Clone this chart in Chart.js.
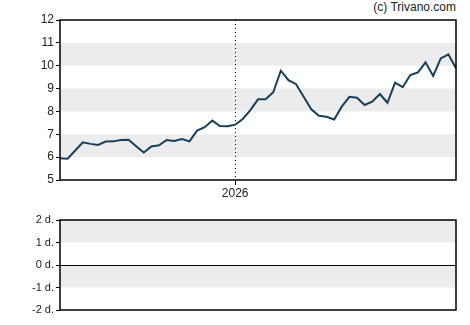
<!DOCTYPE html>
<html>
<head>
<meta charset="utf-8">
<script src="https://cdn.jsdelivr.net/npm/chart.js@4/dist/chart.umd.min.js"></script>
<style>
body{margin:0;background:#fff;}
#wrap{position:relative;width:470px;height:325px;}
#copy{position:absolute;right:14px;top:0px;font:12px "Liberation Sans",Arial,sans-serif;color:#222;}
#priceBox{position:absolute;left:0;top:0;width:470px;height:200px;}
#devBox{position:absolute;left:0;top:205px;width:470px;height:120px;}
</style>
</head>
<body>
<div id="wrap">
    <div id="copy">(c) Trivano.com</div>
    <div id="priceBox"><canvas id="priceChart" width="470" height="200"></canvas></div>
    <div id="devBox"><canvas id="devChart" width="470" height="120"></canvas></div>
</div>
<script>
//数据
var labels=["","","","","","","","","","","","","","","","","","","","","","","","2026","","","","","","","","","","","","","","","","","","","","","","","","","","","","",""];
var prices=[5.95,5.93,6.29,6.65,6.58,6.53,6.68,6.69,6.75,6.76,6.48,6.2,6.47,6.52,6.75,6.71,6.79,6.69,7.16,7.31,7.6,7.36,7.35,7.42,7.67,8.06,8.53,8.53,8.84,9.78,9.37,9.19,8.64,8.09,7.81,7.77,7.65,8.21,8.64,8.6,8.28,8.43,8.76,8.38,9.26,9.06,9.59,9.71,10.15,9.55,10.32,10.5,9.89];
var priceBands=[[6,7],[8,9],[10,11]];
var devTicks=[-2,-1,0,1,2];
var devBands=[[1,2],[-1,0]];
var yearLabel="2026";

var font={family:"'Liberation Sans', Arial, sans-serif",size:12};

//灰色条带 + 边框 + 虚线
function bandPlugin(bands){
    return {
        id:"bands",
        beforeDatasetsDraw:function(chart){
            var ctx=chart.ctx,a=chart.chartArea,y=chart.scales.y;
            ctx.save();
            ctx.fillStyle="#ececec";
            for(var i=0;i<bands.length;i++){
                var y1=y.getPixelForValue(bands[i][1]);
                var y2=y.getPixelForValue(bands[i][0]);
                ctx.fillRect(a.left,y1,a.right-a.left,y2-y1);
            }
            ctx.restore();
        },
        afterDraw:function(chart){
            var ctx=chart.ctx,a=chart.chartArea;
            ctx.save();
            ctx.strokeStyle="#000";
            ctx.lineWidth=1.5;
            ctx.strokeRect(a.left,a.top,a.right-a.left,a.bottom-a.top);
            ctx.restore();
        }
    };
}

var yearLine={
    id:"yearLine",
    beforeDatasetsDraw:function(chart){
        var ctx=chart.ctx,a=chart.chartArea;
        var x=Math.round(chart.scales.x.getPixelForValue(labels.indexOf(yearLabel)))+0.5;
        ctx.save();
        ctx.strokeStyle="#000";
        ctx.lineWidth=1;
        ctx.setLineDash([1,3]);
        ctx.beginPath();
        ctx.moveTo(x,a.top);
        ctx.lineTo(x,a.bottom);
        ctx.stroke();
        ctx.restore();
    }
};

var zeroLine={
    id:"zeroLine",
    afterDatasetsDraw:function(chart){
        var ctx=chart.ctx,a=chart.chartArea;
        var y=Math.round(chart.scales.y.getPixelForValue(0))+0.5;
        ctx.save();
        ctx.strokeStyle="#000";
        ctx.lineWidth=1.2;
        ctx.beginPath();
        ctx.moveTo(a.left,y);
        ctx.lineTo(a.right,y);
        ctx.stroke();
        ctx.restore();
    }
};

var priceChart=new Chart(document.getElementById("priceChart"),{
    type:"line",
    data:{
        labels:labels,
        datasets:[{
            data:prices,
            borderColor:"#173f5c",
            borderWidth:2,
            pointRadius:0,
            tension:0,
            fill:false
        }]
    },
    options:{
        responsive:false,
        animation:false,
        layout:{padding:{top:20,right:14,left:0,bottom:0}},
        plugins:{legend:{display:false},tooltip:{enabled:false}},
        scales:{
            x:{
                grid:{
                    drawOnChartArea:false,
                    tickLength:5,
                    color:function(c){ return labels[c.index]===yearLabel?"#000":"rgba(0,0,0,0)"; }
                },
                border:{display:false},
                ticks:{
                    autoSkip:false,
                    maxRotation:0,
                    padding:1,
                    color:"#222",
                    font:font,
                    callback:function(v,i){ return labels[i]; }
                },
                afterFit:function(s){ s.height=20; }
            },
            y:{
                min:5,
                max:12,
                ticks:{stepSize:1,color:"#222",font:font,padding:2},
                grid:{drawOnChartArea:false,tickLength:4,color:"#000"},
                border:{display:false},
                afterFit:function(s){ s.width=60; }
            }
        }
    },
    plugins:[bandPlugin(priceBands),yearLine]
});

var devChart=new Chart(document.getElementById("devChart"),{
    type:"line",
    data:{
        labels:labels,
        datasets:[{data:[],borderWidth:0,pointRadius:0}]
    },
    options:{
        responsive:false,
        animation:false,
        layout:{padding:{top:15,right:14,left:0,bottom:15}},
        plugins:{legend:{display:false},tooltip:{enabled:false}},
        scales:{
            x:{display:false},
            y:{
                min:devTicks[0],
                max:devTicks[devTicks.length-1],
                ticks:{
                    stepSize:1,
                    color:"#222",
                    padding:2,
                    font:{family:font.family,size:11},
                    callback:function(v){ return v+" d."; }
                },
                grid:{drawOnChartArea:false,tickLength:4,color:"#000"},
                border:{display:false},
                afterFit:function(s){ s.width=60; }
            }
        }
    },
    plugins:[bandPlugin(devBands),zeroLine]
});
</script>
</body>
</html>
